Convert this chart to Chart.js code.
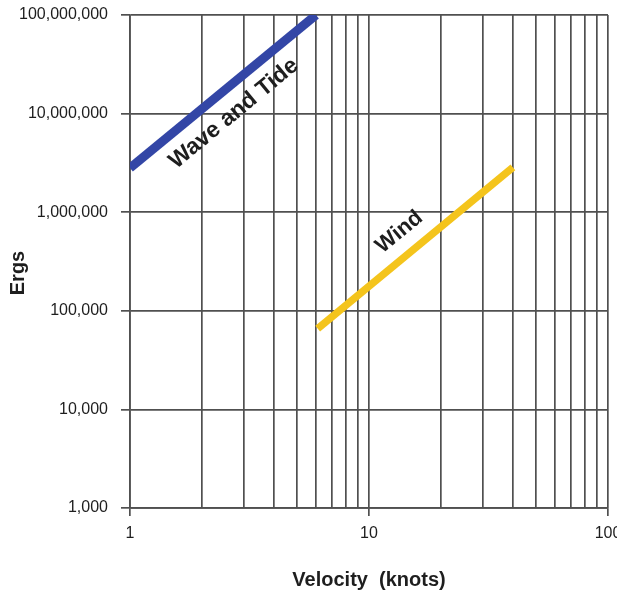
<!DOCTYPE html>
<html>
<head>
<meta charset="utf-8">
<script src="https://cdn.jsdelivr.net/npm/chart.js@4/dist/chart.umd.min.js"></script>
<style>
  html, body { margin: 0; padding: 0; background: #fff; }
  #wrap { width: 617px; height: 598px; }
</style>
</head>
<body>
<div id="wrap"><canvas id="c" width="617" height="598"></canvas></div>
<script>
// Energy vs. velocity, log-log
const waveVelocity = [1, 6];
const waveErgs = [2.8e6, 1.0e8];
const windVelocity = [6.1, 40];
const windErgs = [6.6e4, 2.85e6];

// velocity grid: 1..10 and 10..100 in unit steps per decade
const xGridValues = [1, 2, 3, 4, 5, 6, 7, 8, 9, 10, 20, 30, 40, 50, 60, 70, 80, 90, 100];
const xTickLabels = [1, 10, 100];
const yTickValues = [1000, 10000, 100000, 1000000, 10000000, 100000000];

// where the curve names sit (in data units) and their text
const curveLabels = ['Wave and Tide', 'Wind'];
const curveLabelX = [2.72, 13.4];
const curveLabelY = [1.0e7, 6.3e5];

const gridColor = '#505050';
const textColor = '#1e1e1e';
const fontFamily = '"Liberation Sans", Arial, sans-serif';

function toPoints(xs, ys) { return xs.map((x, i) => ({ x: x, y: ys[i] })); }

const labelPlugin = {
  id: 'curveLabels',
  afterDatasetsDraw(chart) {
    const { ctx, scales } = chart;
    const xs = scales.x, ys = scales.y;
    const series = [[waveVelocity, waveErgs], [windVelocity, windErgs]];
    const sizes = [23, 22];
    ctx.save();
    ctx.fillStyle = textColor;
    ctx.textAlign = 'center';
    ctx.textBaseline = 'middle';
    curveLabels.forEach((txt, i) => {
      const [vx, vy] = series[i];
      const x0 = xs.getPixelForValue(vx[0]), y0 = ys.getPixelForValue(vy[0]);
      const x1 = xs.getPixelForValue(vx[1]), y1 = ys.getPixelForValue(vy[1]);
      const ang = Math.atan2(y1 - y0, x1 - x0);
      const px = xs.getPixelForValue(curveLabelX[i]);
      const py = ys.getPixelForValue(curveLabelY[i]);
      ctx.font = 'bold ' + sizes[i] + 'px ' + fontFamily;
      ctx.save();
      ctx.translate(px, py);
      ctx.rotate(ang);
      ctx.fillText(txt, 0, 0);
      ctx.restore();
    });
    ctx.restore();
  },
  afterDraw(chart) {
    const { ctx, chartArea } = chart;
    ctx.save();
    ctx.fillStyle = textColor;
    ctx.font = 'bold 20px ' + fontFamily;
    ctx.textAlign = 'center';
    ctx.textBaseline = 'middle';
    ctx.fillText('Velocity  (knots)', (chartArea.left + chartArea.right) / 2, 580);
    ctx.translate(18, 273);
    ctx.rotate(-Math.PI / 2);
    ctx.fillText('Ergs', 0, 0);
    ctx.restore();
  }
};

new Chart(document.getElementById('c'), {
  type: 'line',
  data: {
    datasets: [
      {
        label: 'Wave and Tide',
        data: toPoints(waveVelocity, waveErgs),
        borderColor: '#3346a6',
        borderWidth: 9,
        borderCapStyle: 'butt',
        pointRadius: 0,
        tension: 0
      },
      {
        label: 'Wind',
        data: toPoints(windVelocity, windErgs),
        borderColor: '#f4c41c',
        borderWidth: 7.5,
        borderCapStyle: 'butt',
        pointRadius: 0,
        tension: 0
      }
    ]
  },
  options: {
    responsive: false,
    animation: false,
    devicePixelRatio: 1,
    layout: { padding: { top: 15, right: 9, left: 0, bottom: 0 } },
    plugins: { legend: { display: false }, tooltip: { enabled: false }, title: { display: false } },
    scales: {
      x: {
        type: 'logarithmic',
        min: 1,
        max: 100,
        afterBuildTicks(scale) { scale.ticks = xGridValues.map(v => ({ value: v })); },
        afterFit(scale) {
          scale.height = 90;
          scale.paddingLeft = 0; scale.paddingRight = 0;
        },
        grid: {
          color: gridColor,
          lineWidth: 1.7,
          tickLength: 8,
          tickColor: ctx => (xTickLabels.includes(ctx.tick && ctx.tick.value) ? gridColor : 'rgba(0,0,0,0)')
        },
        border: { color: gridColor, width: 1.7 },
        ticks: {
          autoSkip: false,
          maxRotation: 0,
          padding: 8,
          color: textColor,
          font: { family: fontFamily, size: 16 },
          callback: v => (xTickLabels.includes(v) ? String(v) : '')
        }
      },
      y: {
        type: 'logarithmic',
        min: 1000,
        max: 100000000,
        afterBuildTicks(scale) { scale.ticks = yTickValues.map(v => ({ value: v })); },
        afterFit(scale) {
          scale.width = 130;
          scale.paddingTop = 0; scale.paddingBottom = 0;
        },
        grid: { color: gridColor, lineWidth: 1.7, tickLength: 9, tickColor: gridColor },
        border: { color: gridColor, width: 1.7 },
        ticks: {
          autoSkip: false,
          padding: 13,
          color: textColor,
          font: { family: fontFamily, size: 16 },
          callback: v => Number(v).toLocaleString('en-US')
        }
      }
    }
  },
  plugins: [labelPlugin]
});
</script>
</body>
</html>
